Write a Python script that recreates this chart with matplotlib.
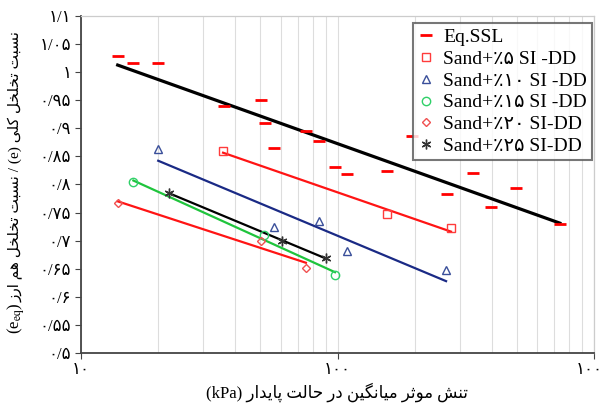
import numpy as np
import matplotlib
matplotlib.use('Agg')
from matplotlib import pyplot as plt

plt.rcParams['font.family'] = ['Liberation Serif', 'DejaVu Sans']
plt.rcParams['mathtext.fontset'] = 'stix'

# data (x: kPa, y: void ratio)
ssl_x = [13.9, 16.0, 20.0, 36.1, 50.3, 52.1, 56.5, 75.3, 84.7, 97.8, 108.9, 156, 195, 267, 338, 396, 496, 736]
ssl_y = [1.029, 1.016, 1.016, 0.940, 0.950, 0.909, 0.865, 0.895, 0.877, 0.831, 0.818, 0.824, 0.886, 0.783, 0.820, 0.760, 0.794, 0.729]

si5_x = [35.8, 156, 277]
si5_y = [0.859, 0.747, 0.722]
si10_x = [20.0, 56.5, 84.7, 108.9, 265]
si10_y = [0.863, 0.724, 0.735, 0.681, 0.647]
si15_x = [16.0, 51.6, 97.8]
si15_y = [0.804, 0.710, 0.638]
si20_x = [13.9, 50.3, 75.3]
si20_y = [0.767, 0.699, 0.651]
si25_x = [22.0, 60.8, 90.2]
si25_y = [0.785, 0.699, 0.669]

labels = ['Eq.SSL', 'Sand+٪۵ SI -DD', 'Sand+٪۱۰ SI -DD', 'Sand+٪۱۵ SI -DD',
          'Sand+٪۲۰ SI-DD', 'Sand+٪۲۵ SI-DD']
yticks = [0.5, 0.55, 0.6, 0.65, 0.7, 0.75, 0.8, 0.85, 0.9, 0.95, 1.0, 1.05, 1.1]
ytick_labels = ['۰/۵', '۰/۵۵', '۰/۶', '۰/۶۵', '۰/۷', '۰/۷۵', '۰/۸', '۰/۸۵', '۰/۹',
                '۰/۹۵', '۱', '۱/۰۵', '۱/۱']
xticks = [10, 100, 1000]
xtick_labels = ['۱۰', '۱۰۰', '۱۰۰۰']

# minimal arabic shaping (matplotlib has no bidi / joining)
FORMS = {
    'ا': ('\uFE8D', '\uFE8E', None, None),
    'ب': ('\uFE8F', '\uFE90', '\uFE91', '\uFE92'),
    'پ': ('\uFB56', '\uFB57', '\uFB58', '\uFB59'),
    'ت': ('\uFE95', '\uFE96', '\uFE97', '\uFE98'),
    'ث': ('\uFE99', '\uFE9A', '\uFE9B', '\uFE9C'),
    'ح': ('\uFEA1', '\uFEA2', '\uFEA3', '\uFEA4'),
    'خ': ('\uFEA5', '\uFEA6', '\uFEA7', '\uFEA8'),
    'د': ('\uFEA9', '\uFEAA', None, None),
    'ر': ('\uFEAD', '\uFEAE', None, None),
    'ز': ('\uFEAF', '\uFEB0', None, None),
    'س': ('\uFEB1', '\uFEB2', '\uFEB3', '\uFEB4'),
    'ش': ('\uFEB5', '\uFEB6', '\uFEB7', '\uFEB8'),
    'ل': ('\uFEDD', '\uFEDE', '\uFEDF', '\uFEE0'),
    'م': ('\uFEE1', '\uFEE2', '\uFEE3', '\uFEE4'),
    'ن': ('\uFEE5', '\uFEE6', '\uFEE7', '\uFEE8'),
    'ه': ('\uFEE9', '\uFEEA', '\uFEEB', '\uFEEC'),
    'و': ('\uFEED', '\uFEEE', None, None),
    'ک': ('\uFB8E', '\uFB8F', '\uFB90', '\uFB91'),
    'گ': ('\uFB92', '\uFB93', '\uFB94', '\uFB95'),
    'ی': ('\uFBFC', '\uFBFD', '\uFBFE', '\uFBFF'),
}


def shape(word):
    out = []
    for i, ch in enumerate(word):
        if ch not in FORMS:
            out.append(ch)
            continue
        iso, fin, ini, med = FORMS[ch]
        prev = word[i - 1] if i > 0 else None
        nxt = word[i + 1] if i < len(word) - 1 else None
        jp = prev in FORMS and FORMS[prev][2] is not None
        jn = nxt in FORMS and ini is not None
        if jp and jn:
            out.append(med)
        elif jp:
            out.append(fin)
        elif jn:
            out.append(ini)
        else:
            out.append(iso)
    return ''.join(out)


def rtl(text):
    vis = []
    for w in reversed(text.split(' ')):
        if any(c in FORMS for c in w):
            vis.append(shape(w)[::-1])
        else:
            vis.append(w)
    return ' '.join(vis)


def fit_line(ax, x, y, color, lw):
    k, b = np.polyfit(np.log10(x), y, 1)
    xs = np.array([min(x), max(x)])
    ax.plot(xs, k * np.log10(xs) + b, color=color, lw=lw, zorder=2)


fig = plt.figure(figsize=(6, 4.05), dpi=100)
ax = fig.add_axes([0.135, 0.129, 0.855, 0.831])

ax.plot(ssl_x, ssl_y, ls='none', marker='_', ms=8, mew=2, color='#ff0000', label=labels[0], zorder=3)
ax.plot(si5_x, si5_y, ls='none', marker='s', ms=6, mfc='none', mec='#ff3b3b', mew=1, label=labels[1], zorder=3)
ax.plot(si10_x, si10_y, ls='none', marker='^', ms=6, mfc='none', mec='#3a4f9a', mew=1, label=labels[2], zorder=3)
ax.plot(si15_x, si15_y, ls='none', marker='o', ms=6, mfc='none', mec='#2fd068', mew=1, label=labels[3], zorder=3)
ax.plot(si20_x, si20_y, ls='none', marker='D', ms=4.5, mfc='none', mec='#f05050', mew=1, label=labels[4], zorder=3)
ax.plot(si25_x, si25_y, ls='none', marker=(6, 2, 0), ms=7, color='#333333', mew=1, label=labels[5], zorder=3)

fit_line(ax, ssl_x, ssl_y, 'black', 2.3)
fit_line(ax, si5_x, si5_y, '#ff1414', 1.6)
fit_line(ax, si10_x, si10_y, '#1a2a85', 1.6)
fit_line(ax, si15_x, si15_y, '#1fc43c', 1.6)
fit_line(ax, si20_x, si20_y, '#ff1414', 1.6)
fit_line(ax, si25_x, si25_y, 'black', 1.6)

ax.set_xscale('log')
ax.set_xlim(10, 1000)
ax.set_ylim(0.5, 1.1)
ax.set_xticks(xticks)
ax.set_xticklabels(xtick_labels, fontsize=12)
ax.set_yticks(yticks)
ax.set_yticklabels(ytick_labels, fontsize=12)
ax.xaxis.set_minor_formatter(matplotlib.ticker.NullFormatter())
ax.tick_params(axis='x', which='minor', length=0)
ax.tick_params(axis='both', which='major', length=4, color='#444444', pad=3)
ax.grid(True, which='minor', axis='x', color='#dddddd', lw=0.8)
ax.grid(True, which='major', axis='x', color='#dddddd', lw=0.8)

for s in ['left', 'bottom']:
    ax.spines[s].set_color('#444444')
    ax.spines[s].set_linewidth(1.3)
for s in ['top', 'right']:
    ax.spines[s].set_color('#cccccc')
    ax.spines[s].set_linewidth(0.9)

ax.set_xlabel(rtl('تنش موثر میانگین در حالت پایدار (kPa)'), fontsize=12, labelpad=3)

fig.text(0.027, 0.255, rtl('نسبت تخلخل کلی (e) / نسبت تخلخل هم ارز'), rotation=90,
         ha='center', va='bottom', fontsize=11)
fig.text(0.027, 0.255, '(e$_{\\mathrm{eq}}$)', rotation=90, ha='center', va='top', fontsize=12)

leg = ax.legend(loc='upper right', bbox_to_anchor=(0.996, 0.979), borderaxespad=0,
                fontsize=14, frameon=True, fancybox=False, handlelength=0.8,
                handletextpad=0.5, labelspacing=0.22, borderpad=0.25)
leg.get_frame().set_edgecolor('#555555')
leg.get_frame().set_linewidth(1.5)

fig.savefig('out.png', dpi=100)
